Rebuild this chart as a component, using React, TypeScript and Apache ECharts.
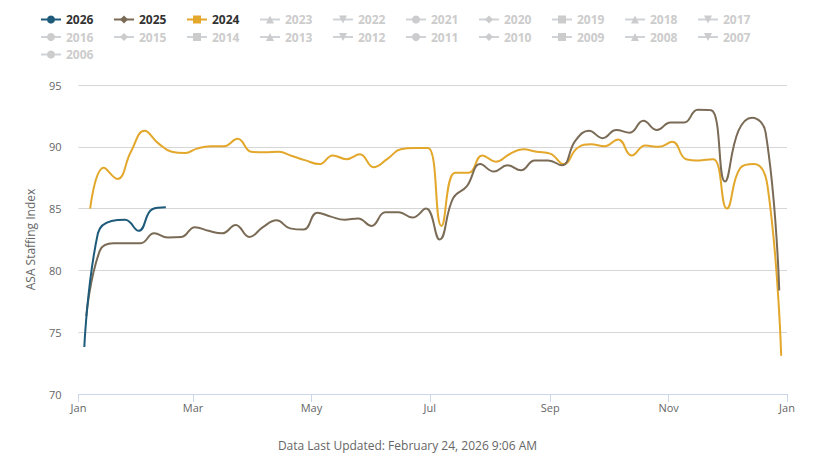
import React, { useEffect, useRef } from "react";
import * as echarts from "echarts";

// Weekly values (week ending Sunday)
const start2026: [number, number, number] = [2026, 0, 4];
const values2026 = [73.8, 83.0, 84.0, 84.1, 83.2, 84.95, 85.1];

const start2025: [number, number, number] = [2025, 0, 5];
const values2025 = [
  76.3, 81.6, 82.2, 82.2, 82.2, 83.0, 82.66, 82.7, 83.5, 83.2, 83.0, 83.67, 82.7,
  83.5, 84.05, 83.4, 83.3, 84.67, 84.35, 84.1, 84.2, 83.6, 84.7, 84.7, 84.27, 85.0,
  82.5, 85.85, 86.8, 88.6, 88.0, 88.5, 88.1, 88.9, 88.9, 88.5, 90.5, 91.3, 90.7,
  91.36, 91.14, 92.1, 91.36, 91.96, 91.96, 93.0, 92.96, 87.2, 91.3, 92.36, 91.14, 78.37,
];

const start2024: [number, number, number] = [2024, 0, 7];
const values2024 = [
  85.0, 88.3, 87.4, 89.6, 91.3, 90.3, 89.6, 89.5, 89.85, 90.05, 90.05, 90.65, 89.6,
  89.55, 89.6, 89.25, 88.9, 88.6, 89.3, 89.0, 89.4, 88.35, 89.0, 89.8, 89.9, 89.9,
  83.6, 87.9, 87.9, 89.3, 88.8, 89.4, 89.8, 89.6, 89.45, 88.6, 89.9, 90.2, 90.05,
  90.6, 89.3, 90.1, 90.0, 90.4, 89.0, 88.9, 89.0, 85.0, 88.3, 88.6, 86.8, 73.1,
];

const years = [
  "2026", "2025", "2024", "2023", "2022", "2021", "2020", "2019", "2018", "2017", "2016",
  "2015", "2014", "2013", "2012", "2011", "2010", "2009", "2008", "2007", "2006",
];
const activeYears = ["2026", "2025", "2024"];
const yearColors: Record<string, string> = {
  "2026": "#1e5a7a",
  "2025": "#7a6b56",
  "2024": "#e3a72b",
};
const symbolCycle = ["circle", "diamond", "rect", "triangle", "path://M0,0L10,0L5,10Z"];

const monthNames = ["Jan", "Feb", "Mar", "Apr", "May", "Jun", "Jul", "Aug", "Sep", "Oct", "Nov", "Dec"];
const tickMonths = [0, 2, 4, 6, 8, 10, 12];
const yTicks = { min: 70, max: 95, interval: 5 };
const yAxisTitle = "ASA Staffing Index";
const footerText = "Data Last Updated: February 24, 2026 9:06 AM";

const REF_YEAR = 2025;

function buildSeries(start: [number, number, number], values: number[]) {
  return values.map((v, i) => {
    const d = new Date(start[0], start[1], start[2] + 7 * i);
    const t = new Date(REF_YEAR, d.getMonth(), d.getDate()).getTime();
    return [t, v];
  });
}

const seriesData: Record<string, number[][]> = {
  "2026": buildSeries(start2026, values2026),
  "2025": buildSeries(start2025, values2025),
  "2024": buildSeries(start2024, values2024),
};

export default function App() {
  const ref = useRef<HTMLDivElement>(null);

  useEffect(() => {
    if (!ref.current) return;
    const chart = echarts.init(ref.current, null, { renderer: "svg" });
    const font = "'Open Sans', 'Noto Sans', sans-serif";
    const tickValues = tickMonths.map((m) => new Date(REF_YEAR, m, 1).getTime());

    const selected: Record<string, boolean> = {};
    years.forEach((y) => (selected[y] = activeYears.includes(y)));

    const series = years.map((y, i) => ({
      name: y,
      type: "line",
      data: seriesData[y] || [],
      smooth: 0.45,
      showSymbol: false,
      symbol: symbolCycle[i % symbolCycle.length],
      symbolSize: 8,
      color: yearColors[y] || "#cccccc",
      lineStyle: { width: 2, color: yearColors[y] || "#cccccc" },
      itemStyle: { color: yearColors[y] || "#cccccc" },
      emphasis: { disabled: true },
      z: 10 - Math.min(i, 9),
    }));

    chart.setOption({
      animation: false,
      textStyle: { fontFamily: font },
      legend: {
        left: 40,
        top: 13,
        width: 760,
        padding: 0,
        itemWidth: 20,
        itemHeight: 10,
        itemGap: 4.5,
        selectedMode: true,
        inactiveColor: "#cccccc",
        selected,
        data: years,
        textStyle: {
          fontFamily: font,
          fontSize: 12,
          fontWeight: "bold",
          color: "#333333",
          width: 42.5,
          lineHeight: 13,
        },
      },
      grid: { left: 78.5, right: 28, top: 85, bottom: 73, containLabel: false },
      xAxis: {
        type: "value",
        min: tickValues[0],
        max: tickValues[tickValues.length - 1],
        splitLine: { show: false },
        axisLine: { show: true, lineStyle: { color: "#ccd6eb", width: 1 } },
        axisTick: {
          show: true,
          length: 8,
          lineStyle: { color: "#ccd6eb" },
          customValues: tickValues,
        },
        axisLabel: {
          customValues: tickValues,
          color: "#666666",
          fontSize: 11,
          fontFamily: font,
          margin: 8,
          formatter: (v: number) => monthNames[new Date(v).getMonth()],
        },
      },
      yAxis: {
        type: "value",
        min: yTicks.min,
        max: yTicks.max,
        interval: yTicks.interval,
        name: yAxisTitle,
        nameLocation: "middle",
        nameGap: 42,
        nameTextStyle: { color: "#666666", fontSize: 12, fontFamily: font },
        axisLine: { show: false },
        axisTick: { show: false },
        axisLabel: { color: "#666666", fontSize: 11, fontFamily: font, margin: 17 },
        splitLine: { lineStyle: { color: "#d6d6d6", width: 1 } },
      },
      graphic: [
        {
          type: "text",
          left: "center",
          top: 439,
          style: {
            text: footerText,
            fill: "#666666",
            fontSize: 12,
            fontFamily: font,
          },
        },
      ],
      series,
    });

    return () => chart.dispose();
  }, []);

  return (
    <div
      ref={ref}
      style={{ position: "absolute", left: 0, top: 0, width: 815, height: 467, background: "#fff" }}
    />
  );
}
